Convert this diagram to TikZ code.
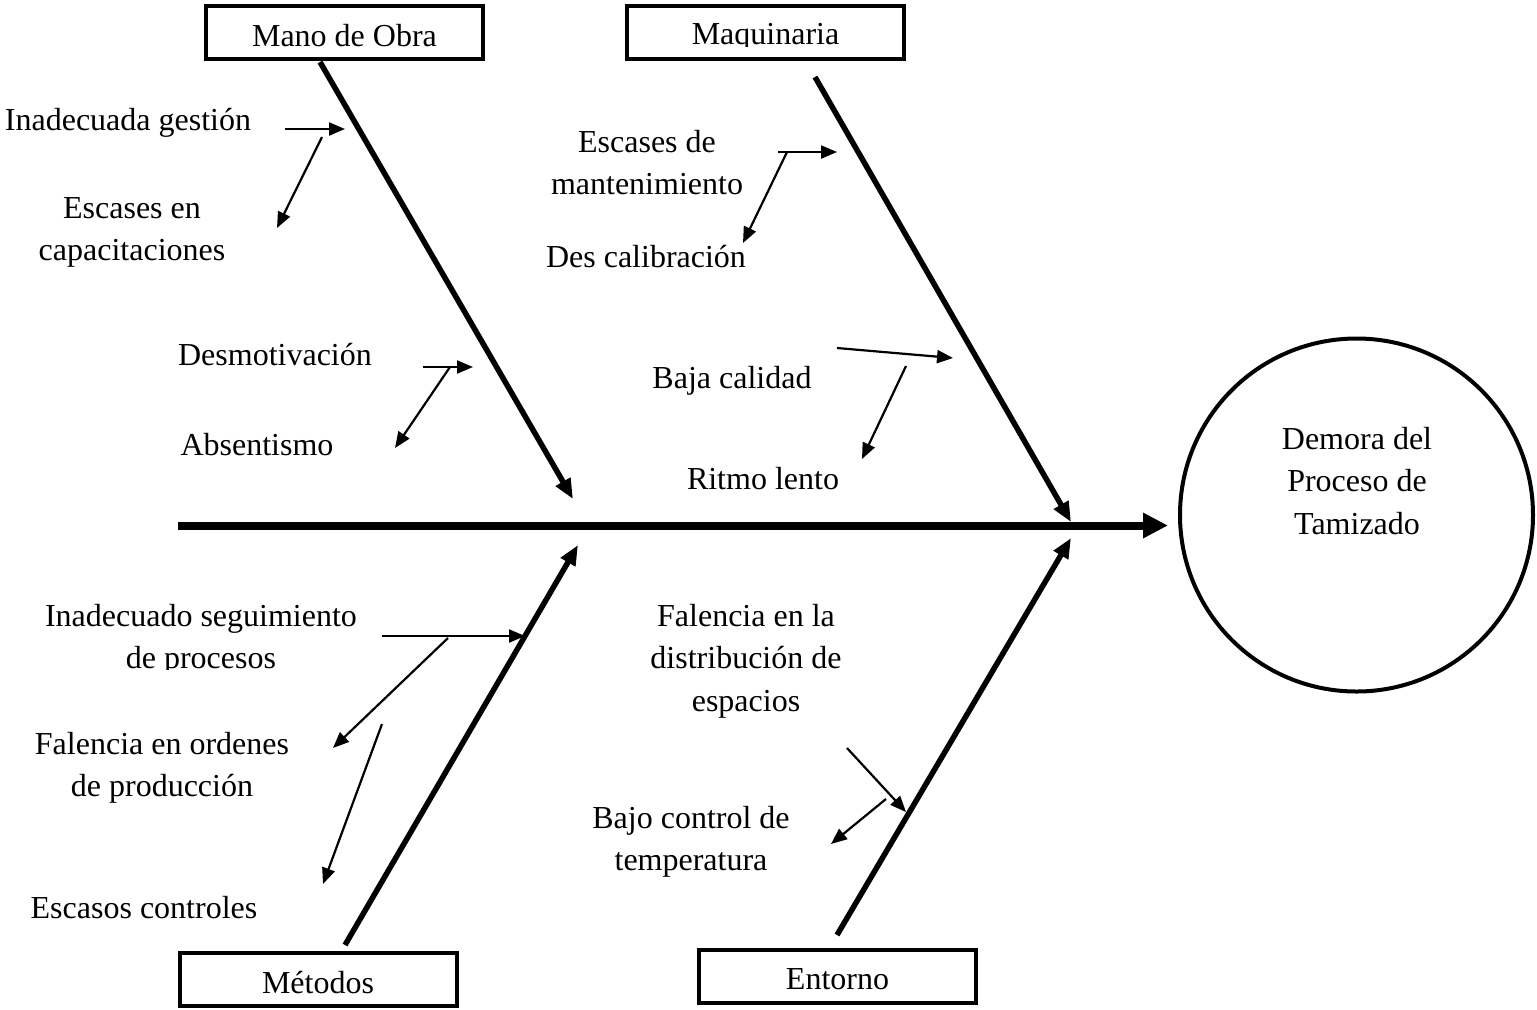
\documentclass[tikz,border=0pt]{standalone}
\usepackage{fontspec}
\setmainfont{Liberation Serif}
\usetikzlibrary{arrows.meta}
\newcommand\diagfont{\fontsize{16}{21.25}\selectfont}
\begin{document}
\begin{tikzpicture}[x=0.5pt,y=-0.5pt,
  every node/.style={inner sep=0pt, outer sep=0pt},
  lbl/.style={font=\diagfont, align=center, anchor=north},
  catbox/.style={draw, line width=2pt, rectangle, minimum width=138.5pt,
    minimum height=26.5pt, font=\diagfont, text height=13.6pt, text depth=0pt},
  bone/.style={line width=2.75pt, -{Triangle[length=10pt,width=8pt]}},
  twig/.style={line width=1.1pt, -{Triangle[length=8pt,width=6.5pt]}},
  spinearrow/.style={line width=4pt, -{Triangle[length=12.5pt,width=12pt]}},
]
\useasboundingbox[fill=white] (0,0) rectangle (1537,1009);

% category boxes
\node[catbox] (mo)  at (344.5,32.5) {Mano de Obra};
\node[catbox] (maq) at (765.5,32) {};
\begin{scope}
  \clip (625,4) rectangle (906,46.5);
  \node[font=\diagfont, anchor=base] (maqtxt) at (765.5,44) {Maquinaria};
\end{scope}
\node[catbox] (met) at (318,979.5) {Métodos};
\node[catbox] (ent) at (837.5,976) {Entorno};

% effect
\node[draw, circle, line width=2pt, minimum size=176.5pt] (eff) at (1356.5,515) {};
\node[lbl] (efftxt) at (1357,419.25) {\strut Demora del\\Proceso de\\Tamizado};

% spine
\coordinate (sp0) at (178,525.5);
\coordinate (sp1) at (1168,525.5);
\draw[spinearrow] (sp0) -- (sp1);

% main bones
\coordinate (mo0) at (320,62);    \coordinate (mo1) at (573,499);
\coordinate (maq0) at (815,77);   \coordinate (maq1) at (1071,522);
\coordinate (met0) at (345,945);  \coordinate (met1) at (578,545);
\coordinate (ent0) at (837,935);  \coordinate (ent1) at (1071,538);
\draw[bone] (mo0) -- (mo1);
\draw[bone] (maq0) -- (maq1);
\draw[bone] (met0) -- (met1);
\draw[bone] (ent0) -- (ent1);

% cause labels
\node[lbl] (ig)  at (128,100.25) {\strut Inadecuada gestión};
\node[lbl] (ec)  at (132,188.25) {\strut Escases en\\capacitaciones};
\node[lbl] (dm)  at (275,335.25) {\strut Desmotivación};
\node[lbl] (ab)  at (257,425.25) {\strut Absentismo};
\node[lbl] (em)  at (647,122.25) {\strut Escases de\\mantenimiento};
\node[lbl] (dc)  at (646,237.25) {\strut Des calibración};
\node[lbl] (bc)  at (732,358.25) {\strut Baja calidad};
\node[lbl] (rl)  at (763,459.25) {\strut Ritmo lento};
\begin{scope}
  \clip (0,560) rectangle (600,669);
  \node[lbl] (is) at (201,596.25) {\strut Inadecuado seguimiento\\de procesos};
\end{scope}
\node[lbl] (fo)  at (162,724.25) {\strut Falencia en ordenes\\de producción};
\node[lbl] (esc) at (144,888.25) {\strut Escasos controles};
\node[lbl] (fl)  at (746,596.25) {\strut Falencia en la\\distribución de\\espacios};
\node[lbl] (bt)  at (691,798.25) {\strut Bajo control de\\temperatura};

% sub-cause arrows
\coordinate (a1) at (285,129);  \coordinate (a2) at (345,129);
\coordinate (a3) at (322,137);  \coordinate (a4) at (277,228);
\draw[twig] (a1) -- (a2);
\draw[twig] (a3) -- (a4);

\coordinate (b1) at (423,367);  \coordinate (b2) at (473,367);
\coordinate (b3) at (450,367);  \coordinate (b4) at (395,448);
\draw[twig] (b1) -- (b2);
\draw[twig] (b3) -- (b4);

\coordinate (c1) at (778,152);  \coordinate (c2) at (837,152);
\coordinate (c3) at (787,152);  \coordinate (c4) at (743,243);
\draw[twig] (c1) -- (c2);
\draw[twig] (c3) -- (c4);

\coordinate (d1) at (837,348);  \coordinate (d2) at (953,358);
\coordinate (d3) at (906,366);  \coordinate (d4) at (862,459);
\draw[twig] (d1) -- (d2);
\draw[twig] (d3) -- (d4);

\coordinate (e1) at (382,636);  \coordinate (e2) at (525,636);
\coordinate (e3) at (448,638);  \coordinate (e4) at (333,748);
\coordinate (e5) at (382,724);  \coordinate (e6) at (323,884);
\draw[twig] (e1) -- (e2);
\draw[twig] (e3) -- (e4);
\draw[twig] (e5) -- (e6);

\coordinate (f1) at (847,748);  \coordinate (f2) at (906,812);
\coordinate (f3) at (886,799);  \coordinate (f4) at (831,844);
\draw[twig] (f1) -- (f2);
\draw[twig] (f3) -- (f4);
\end{tikzpicture}
\end{document}
